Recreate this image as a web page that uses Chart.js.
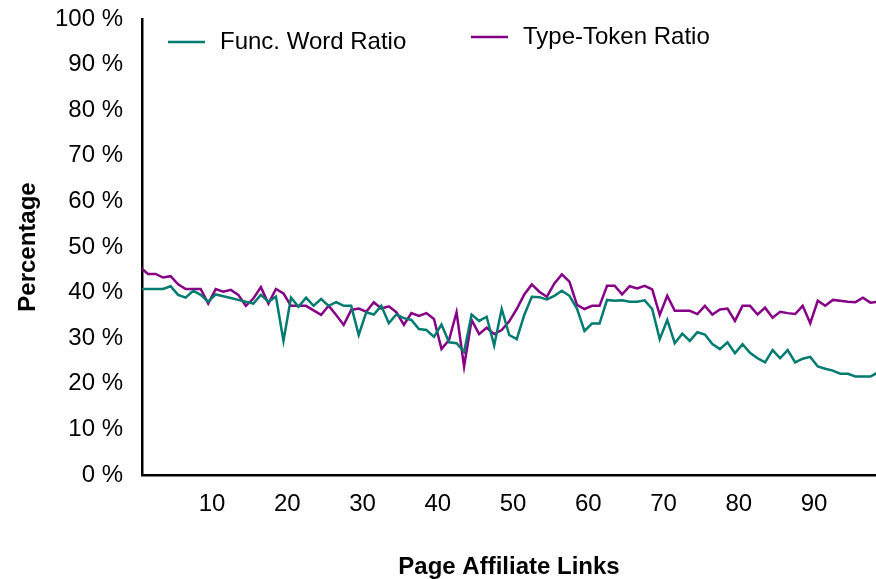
<!DOCTYPE html>
<html>
<head>
<meta charset="utf-8">
<script src="https://cdn.jsdelivr.net/npm/chart.js@4.4.1/dist/chart.umd.min.js"></script>
<style>
  body { margin: 0; background: #fff; }
</style>
</head>
<body>
<canvas id="chart" width="876" height="579"></canvas>
<script>
var linkCounts = [1, 2, 3, 4, 5, 6, 7, 8, 9, 10, 11, 12, 13, 14, 15, 16, 17, 18, 19, 20,
  21, 22, 23, 24, 25, 26, 27, 28, 29, 30, 31, 32, 33, 34, 35, 36, 37, 38, 39, 40,
  41, 42, 43, 44, 45, 46, 47, 48, 49, 50, 51, 52, 53, 54, 55, 56, 57, 58, 59, 60,
  61, 62, 63, 64, 65, 66, 67, 68, 69, 70, 71, 72, 73, 74, 75, 76, 77, 78, 79, 80,
  81, 82, 83, 84, 85, 86, 87, 88, 89, 90, 91, 92, 93, 94, 95, 96, 97, 98, 99];

var funcWordRatio = [40.8, 40.8, 40.8, 40.8, 41.4, 39.5, 38.9, 40.4, 39.5, 38.0,
  39.6, 39.2, 38.8, 38.4, 38.0, 37.6, 39.5, 38.0, 39.1, 29.4,
  38.9, 36.9, 38.9, 37.1, 38.6, 37.1, 37.9, 37.1, 37.1, 30.7,
  35.7, 35.2, 37.1, 33.3, 35.2, 34.4, 34.0, 32.0, 31.8, 30.3,
  33.0, 29.1, 28.9, 27.0, 35.2, 33.8, 34.7, 28.4, 36.4, 30.7,
  29.8, 35.1, 39.1, 39.0, 38.5, 39.3, 40.4, 39.3, 36.5, 31.6,
  33.2, 33.2, 38.4, 38.2, 38.3, 38.0, 38.0, 38.3, 36.4, 29.8,
  34.0, 28.9, 31.0, 29.4, 31.3, 30.8, 28.7, 27.6, 29.1, 26.7,
  28.7, 26.8, 25.6, 24.7, 27.4, 25.6, 27.4, 24.7, 25.5, 25.9,
  23.8, 23.3, 22.9, 22.2, 22.2, 21.6, 21.6, 21.6, 22.5];

var typeTokenRatio = [45.5, 44.1, 44.1, 43.3, 43.6, 41.8, 40.8, 40.8, 40.8, 37.6,
  40.8, 40.2, 40.6, 39.5, 37.1, 38.7, 41.2, 37.6, 40.8, 39.8,
  37.1, 37.1, 37.1, 36.1, 35.1, 37.1, 35.1, 32.9, 36.2, 36.5,
  35.8, 37.9, 36.5, 37.0, 35.7, 32.9, 35.5, 34.9, 35.5, 34.2,
  27.6, 29.6, 35.7, 23.8, 34.0, 30.9, 32.3, 30.9, 31.8, 33.7,
  36.4, 39.6, 41.8, 40.2, 39.1, 42.0, 44.0, 42.4, 37.3, 36.4,
  37.1, 37.1, 41.5, 41.5, 39.6, 41.4, 40.9, 41.5, 40.7, 35.1,
  39.3, 36.0, 36.0, 36.0, 35.3, 37.1, 35.2, 36.3, 36.5, 33.8,
  37.1, 37.1, 35.2, 36.7, 34.5, 35.8, 35.5, 35.3, 37.1, 33.3,
  38.2, 37.1, 38.4, 38.2, 38.0, 37.9, 38.9, 37.8, 38.0];

var xTickLabels = ['10', '20', '30', '40', '50', '60', '70', '80', '90'];
var yTickLabels = ['0 %', '10 %', '20 %', '30 %', '40 %', '50 %', '60 %', '70 %', '80 %', '90 %', '100 %'];

var seriesNames = ['Func. Word Ratio', 'Type-Token Ratio'];
var teal = '#007b6f';
var purple = '#860086';
var fontFamily = '"Liberation Sans", Arial, Helvetica, sans-serif';

function points(values) {
  return linkCounts.map(function(x, i) { return {x: x, y: values[i]}; });
}

// legend sits inside the plot area, like the original
var legendSpots = [{x: 168, y: 42}, {x: 471, y: 37}];
var insideLegend = {
  id: 'insideLegend',
  afterDraw: function(chart) {
    var c = chart.ctx;
    chart.data.datasets.forEach(function(ds, i) {
      var p = legendSpots[i];
      c.save();
      c.strokeStyle = ds.borderColor;
      c.lineWidth = 2.5;
      c.beginPath();
      c.moveTo(p.x, p.y);
      c.lineTo(p.x + 37, p.y);
      c.stroke();
      c.fillStyle = '#000';
      c.font = '24px ' + fontFamily;
      c.textBaseline = 'middle';
      c.fillText(ds.label, p.x + 52, p.y);
      c.restore();
    });
  }
};

var ctx = document.getElementById('chart').getContext('2d');
var chart = new Chart(ctx, {
  type: 'line',
  data: {
    datasets: [{
      label: seriesNames[0],
      data: points(funcWordRatio),
      borderColor: teal,
      borderWidth: 2.5,
      pointRadius: 0,
      tension: 0
    }, {
      label: seriesNames[1],
      data: points(typeTokenRatio),
      borderColor: purple,
      borderWidth: 2.5,
      pointRadius: 0,
      tension: 0
    }]
  },
  options: {
    responsive: false,
    devicePixelRatio: 1,
    animation: false,
    layout: { padding: { top: 19, right: 0, bottom: 0, left: 0 } },
    plugins: {
      legend: { display: false },
      tooltip: { enabled: false }
    },
    scales: {
      x: {
        type: 'linear',
        min: 1.2,
        max: 98.74,
        afterBuildTicks: function(scale) {
          scale.ticks = xTickLabels.map(function(l) { return {value: Number(l) + 0.5}; });
        },
        afterFit: function(scale) {
          scale.height = 104;
          scale.paddingLeft = 0;
          scale.paddingRight = 0;
        },
        grid: { display: false, drawTicks: false },
        border: { display: true, color: '#000', width: 2.5 },
        ticks: {
          autoSkip: false,
          maxRotation: 0,
          padding: 15,
          color: '#000',
          font: { family: fontFamily, size: 24 },
          callback: function(v, i) { return xTickLabels[i]; }
        },
        title: {
          display: true,
          text: 'Page Affiliate Links',
          color: '#000',
          font: { family: fontFamily, size: 24, weight: 'bold' },
          padding: { top: -3, bottom: -3 }
        }
      },
      y: {
        min: 0,
        max: 100,
        afterFit: function(scale) {
          scale.width = 142;
          scale.paddingTop = 0;
          scale.paddingBottom = 0;
        },
        grid: { display: false, drawTicks: false },
        border: { display: true, color: '#000', width: 2.5 },
        ticks: {
          stepSize: 10,
          padding: 19,
          color: '#000',
          font: { family: fontFamily, size: 24 },
          callback: function(v, i) { return yTickLabels[i]; }
        },
        title: {
          display: true,
          text: 'Percentage',
          color: '#000',
          font: { family: fontFamily, size: 24, weight: 'bold' },
          padding: { top: 14, bottom: 0 }
        }
      }
    }
  },
  plugins: [insideLegend]
});
</script>
</body>
</html>
